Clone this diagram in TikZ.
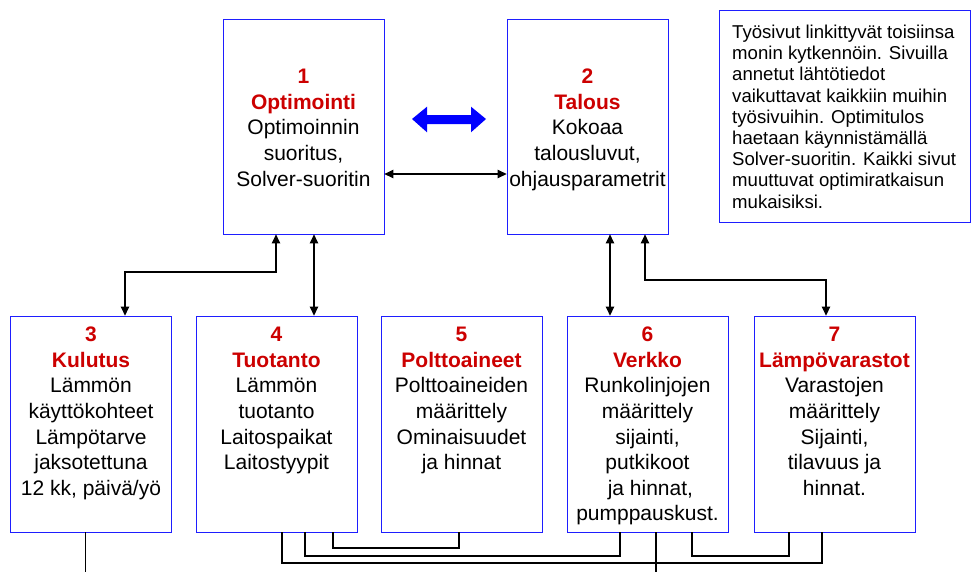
\documentclass[tikz,border=0pt]{standalone}
\usepackage{fontspec}
\setmainfont{Liberation Sans}
\usetikzlibrary{arrows.meta,fit}
\definecolor{boxblue}{RGB}{30,30,255}
\definecolor{tred}{RGB}{204,0,0}
\begin{document}
\begin{tikzpicture}[x=1pt,y=-1pt,
  box/.style={draw=boxblue,line width=0.8pt,inner sep=0pt,fill=white},
  txt/.style={align=center,inner sep=0pt,font=\fontsize{21}{25.6}\selectfont},
  notetxt/.style={align=left,inner sep=0pt,font=\fontsize{18.6}{21.2}\selectfont},
  conn/.style={line width=1.1pt,draw=black},
  arr/.style={conn,{Triangle[length=9pt,width=8.5pt]}-{Triangle[length=9pt,width=8.5pt]}},
  bigarrow/.style={fill=blue,draw=none}]
\useasboundingbox (0,0) rectangle (971,571);
% boxes
\node[box,fit={(223,19) (384,234)}] (b1) {};
\node[box,fit={(507,19) (668,234)}] (b2) {};
\node[box,fit={(10.7,316) (171,532)}] (b3) {};
\node[box,fit={(196,316) (357,532)}] (b4) {};
\node[box,fit={(381,316) (542,532)}] (b5) {};
\node[box,fit={(567,316) (728,532)}] (b6) {};
\node[box,fit={(754,316) (915,532)}] (b7) {};
\node[box,fit={(719,10) (970,222)}] (note) {};
% texts (base anchor = baseline of the last line)
\node[txt,anchor=base] (t1) at (303.5,186.1) {\textcolor{tred}{\bfseries 1}\\\textcolor{tred}{\bfseries Optimointi}\\Optimoinnin\\suoritus,\\Solver-suoritin};
\node[txt,anchor=base] (t2) at (587.5,186.1) {\textcolor{tred}{\bfseries 2}\\\textcolor{tred}{\bfseries Talous}\\Kokoaa\\talousluvut,\\ohjausparametrit};
\node[txt,anchor=base] (t3) at (91,495.3) {\textcolor{tred}{\bfseries 3}\\\textcolor{tred}{\bfseries Kulutus}\\Lämmön\\käyttökohteet\\Lämpötarve\\jaksotettuna\\12 kk, päivä/yö};
\node[txt,anchor=base] (t4) at (276.5,469.7) {\textcolor{tred}{\bfseries 4}\\\textcolor{tred}{\bfseries Tuotanto}\\Lämmön\\tuotanto\\Laitospaikat\\Laitostyypit};
\node[txt,anchor=base] (t5) at (461.5,469.7) {\textcolor{tred}{\bfseries 5}\\\textcolor{tred}{\bfseries Polttoaineet}\\Polttoaineiden\\määrittely\\Ominaisuudet\\ja hinnat};
\node[txt,anchor=base] (t6) at (647.5,520.9) {\textcolor{tred}{\bfseries 6}\\\textcolor{tred}{\bfseries Verkko}\\Runkolinjojen\\määrittely\\sijainti,\\putkikoot\\\ ja hinnat,\\pumppauskust.};
\node[txt,anchor=base] (t7) at (834.5,495.3) {\textcolor{tred}{\bfseries 7}\\\textcolor{tred}{\bfseries Lämpövarastot}\\Varastojen\\määrittely\\Sijainti,\\tilavuus ja\\hinnat.};
\node[notetxt,anchor=base west] (tn) at (732,208.1) {Työsivut linkittyvät toisiinsa\\monin kytkennöin. Sivuilla\\annetut lähtötiedot\\vaikuttavat kaikkiin muihin\\työsivuihin. Optimitulos\\haetaan käynnistämällä\\Solver-suoritin. Kaikki sivut\\muuttuvat optimiratkaisun\\mukaisiksi.};
% big blue double arrow
\fill[bigarrow] (412,119) -- (427,106.7) -- (427,115) -- (471,115) -- (471,106.7) -- (486,119) -- (471,132.3) -- (471,124) -- (427,124) -- (427,132.3) -- cycle;
% helper coordinates
\coordinate (y12) at (0,174);
\coordinate (p13a) at (276,272);
\coordinate (p13b) at (125,272);
\coordinate (x14) at (314,0);
\coordinate (x26) at (610,0);
\coordinate (p27a) at (645,280);
\coordinate (p27b) at (826,280);
% top connectors
\draw[arr] (b1.east |- y12) -- (b2.west |- y12);
\draw[arr] (b1.south -| p13a) -- (p13a) -- (p13b) -- (b3.north -| p13b);
\draw[arr] (b1.south -| x14) -- (b4.north -| x14);
\draw[arr] (b2.south -| x26) -- (b6.north -| x26);
\draw[arr] (b2.south -| p27a) -- (p27a) -- (p27b) -- (b7.north -| p27b);
% bottom connectors
\coordinate (q45a) at (333,548); \coordinate (q45b) at (459,548);
\coordinate (q46a) at (305,556); \coordinate (q46b) at (620,556);
\coordinate (q47a) at (282,563); \coordinate (q47b) at (822,563);
\coordinate (q67a) at (692,556); \coordinate (q67b) at (789,556);
\coordinate (e6) at (656,575);
\coordinate (e3) at (85.5,575);
\draw[conn] (b4.south -| q45a) -- (q45a) -- (q45b) -- (b5.south -| q45b);
\draw[conn] (b4.south -| q46a) -- (q46a) -- (q46b) -- (b6.south -| q46b);
\draw[conn] (b4.south -| q47a) -- (q47a) -- (q47b) -- (b7.south -| q47b);
\draw[conn] (b6.south -| q67a) -- (q67a) -- (q67b) -- (b7.south -| q67b);
\draw[conn] (b6.south -| e6) -- (e6);
\draw[conn] (b3.south -| e3) -- (e3);
\end{tikzpicture}
\end{document}
